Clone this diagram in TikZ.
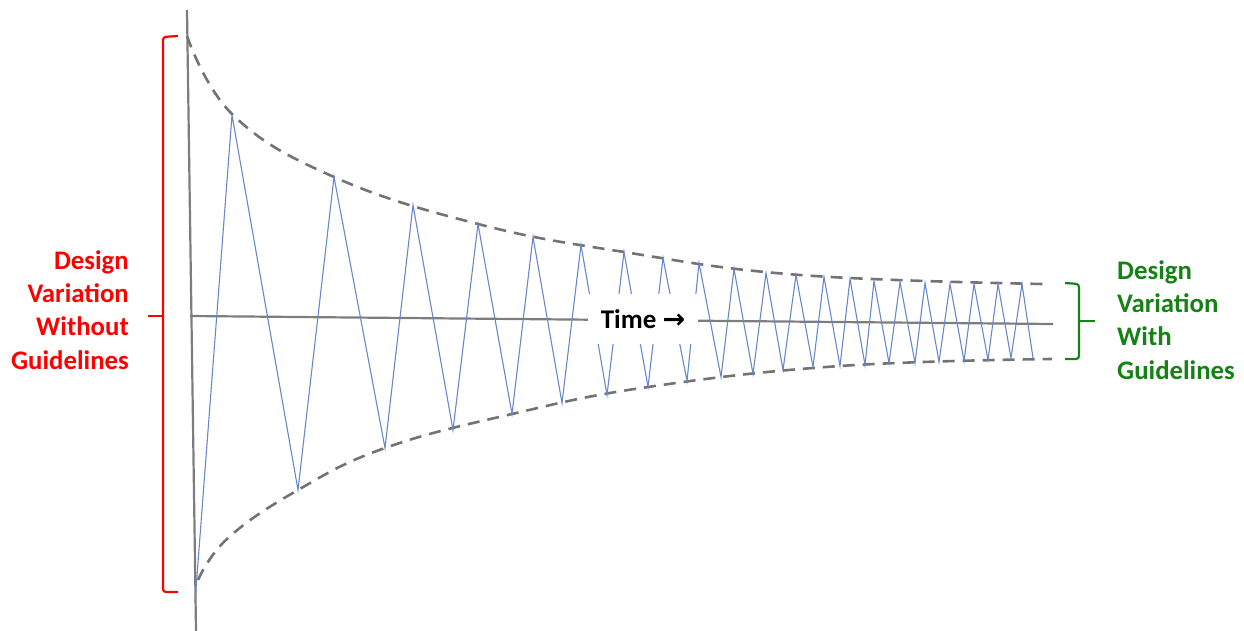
\documentclass[tikz,border=0pt]{standalone}
\usepackage{fontspec}
\setmainfont{Carlito}
\newfontfamily\arrowfont{DejaVu Sans}
\definecolor{axisgray}{RGB}{125,125,125}
\definecolor{dashgray}{RGB}{115,115,115}
\definecolor{zigblue}{RGB}{105,135,205}
\definecolor{labred}{RGB}{255,0,0}
\definecolor{labgreen}{RGB}{20,130,20}
\begin{document}
\begin{tikzpicture}[x=1pt,y=-1pt,
  axisline/.style={draw=axisgray,line width=2.2pt},
  envelope/.style={draw=dashgray,line width=2.6pt,dash pattern=on 12pt off 8pt},
  zigzag/.style={draw=zigblue,line width=1.1pt,line join=miter},
  bracket/.style={line width=2.2pt,rounded corners=3pt},
  lab/.style={font=\bfseries\fontsize{26.8}{33.4}\selectfont,inner sep=0pt}]
\useasboundingbox (0,0) rectangle (1244,631);
% axes
\coordinate (ytop) at (187,10);
\coordinate (ybot) at (196,631);
\coordinate (xl) at (190,316);
\coordinate (xr) at (1053,324);
\draw[axisline] (ytop) -- (ybot);
\draw[axisline] (xl) -- (xr);
% envelopes
\draw[envelope] plot[smooth,tension=0.7] coordinates {(187,36) (233,115) (334,177) (478,224) (624,252) (800,275) (1043,284)};
\draw[envelope] plot[smooth,tension=0.7] coordinates {(198,580) (228,538) (298,490) (385,448) (512,414) (648,387) (840,366) (1052,359)};
% zigzag
\draw[zigzag] (195,602) -- (232,115) -- (298,490) -- (334,177) -- (385,448) -- (413,205) -- (453,430) -- (478,224) -- (512,414) -- (533,237) -- (562,403) -- (581,245) -- (607,395) -- (624,252) -- (648,387) -- (663,258) -- (687,381) -- (699,263) -- (721,377) -- (734,269) -- (753,374) -- (766,273) -- (783,370) -- (796,275) -- (813,367) -- (824,277) -- (840,366) -- (850,279) -- (865,365) -- (874,281) -- (889,363) -- (900,282) -- (915,363) -- (925,283) -- (939,362) -- (950,284) -- (964,361) -- (974,284) -- (988,360) -- (998,284) -- (1011,358) -- (1022,284) -- (1033,358);
% time label
\node[fill=white,minimum width=110pt,minimum height=50pt,inner sep=0pt,font=\bfseries\fontsize{27}{30}\selectfont] (time) at (643,319) {Time {\arrowfont\bfseries\fontsize{27}{28}\selectfont →}};
% red bracket
\draw[bracket,draw=labred] (178,36) -- (163,37) -- (163,592) -- (178,592);
\coordinate (rtip) at (148,316);
\draw[line width=2.2pt,draw=labred] (163,316) -- (rtip);
% green bracket
\draw[bracket,draw=labgreen] (1065,283) -- (1079,284) -- (1079,359) -- (1065,359);
\coordinate (gtip) at (1095,321);
\draw[line width=2.2pt,draw=labgreen] (1079,321) -- (gtip);
% labels
\node[lab,text=labred,align=right,anchor=north east] (without) at (129,250) {Design\\Variation\\Without\\Guidelines};
\node[lab,text=labgreen,align=left,anchor=north west] (with) at (1117,260) {Design\\Variation\\With\\Guidelines};
\end{tikzpicture}
\end{document}
